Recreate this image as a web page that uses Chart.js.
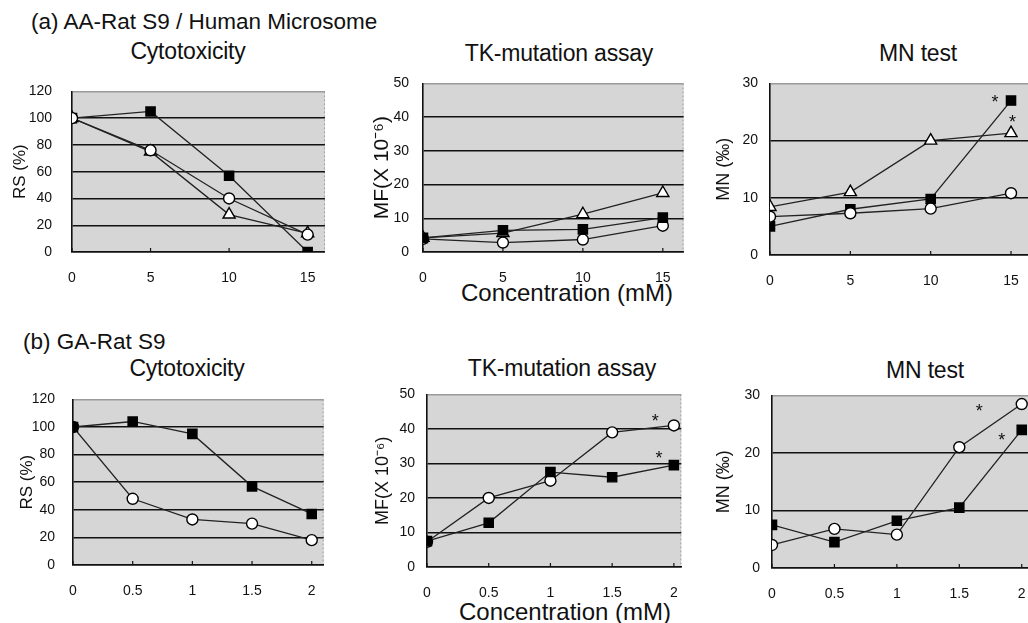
<!DOCTYPE html>
<html><head><meta charset="utf-8">
<script src="https://cdn.jsdelivr.net/npm/chart.js@4"></script>
<style>
body{margin:0;width:1028px;height:623px;overflow:hidden;background:#fff;position:relative;font-family:'Liberation Sans',Arial,sans-serif;color:#111}
.t{position:absolute;white-space:nowrap;transform:translate(-50%,-50%);font-size:23px;letter-spacing:-0.2px}
.h{position:absolute;white-space:nowrap;font-size:22.5px;transform:translateY(-50%)}
.x{position:absolute;white-space:nowrap;transform:translate(-50%,-50%);font-size:24px}
canvas{position:absolute}
</style></head><body>
<div class="h" style="left:31px;top:22px">(a) AA-Rat S9 / Human Microsome</div>
<div class="h" style="left:23px;top:342px">(b) GA-Rat S9</div>
<div class="t" style="left:188px;top:51px">Cytotoxicity</div>
<div class="t" style="left:559px;top:53px">TK-mutation assay</div>
<div class="t" style="left:918px;top:53px">MN test</div>
<div class="t" style="left:187px;top:368px">Cytotoxicity</div>
<div class="t" style="left:562px;top:368px">TK-mutation assay</div>
<div class="t" style="left:925px;top:370px">MN test</div>
<div class="x" style="left:567px;top:293px">Concentration (mM)</div>
<div class="x" style="left:565px;top:612px">Concentration (mM)</div>
<canvas id="c1"></canvas><canvas id="c2"></canvas><canvas id="c3"></canvas>
<canvas id="c4"></canvas><canvas id="c5"></canvas><canvas id="c6"></canvas>
<script>
// ---- data ----
const aaConc = [0, 5, 10, 15];
const gaConc = [0, 0.5, 1, 1.5, 2];
const aaXTicks = [0, 5, 10, 15];
const gaXTicks = [0, 0.5, 1, 1.5, 2];
const gaXLabels = ['0', '0.5', '1', '1.5', '2'];
const cytoYTicks = [0, 20, 40, 60, 80, 100, 120];
const tkYTicks = [0, 10, 20, 30, 40, 50];
const mnYTicks = [0, 10, 20, 30];

const aaCytoSquare = [100, 105, 57, 0];
const aaCytoCircle = [100, 76, 40, 13];
const aaCytoTriangle = [100, 75, 28, 14];
const aaTkSquare = [4.2, 6.4, 6.7, 10.2];
const aaTkCircle = [3.9, 2.8, 3.7, 7.8];
const aaTkTriangle = [4.2, 5.6, 11.2, 17.5];
const aaMnSquare = [5, 8, 9.8, 27];
const aaMnCircle = [6.7, 7.3, 8.1, 10.8];
const aaMnTriangle = [8.4, 11, 20, 21.3];

const gaCytoSquare = [100, 104, 95, 57, 37];
const gaCytoCircle = [100, 48, 33, 30, 18];
const gaTkSquare = [7.5, 12.8, 27.5, 26, 29.5];
const gaTkCircle = [7.3, 20, 25, 39, 41];
const gaMnSquare = [7.5, 4.5, 8.2, 10.5, 24];
const gaMnCircle = [4, 6.8, 5.8, 21, 28.5];

const aaMnStars = [[14, 27.4], [15.1, 24]];
const gaTkStars = [[1.85, 43.5], [1.88, 32.7]];
const gaMnStars = [[1.66, 28], [1.84, 22.9]];

// ---- styles ----
const STY = {
  square: {pointStyle: 'rect', pointRadius: 6.5, pointBackgroundColor: '#000'},
  circle: {pointStyle: 'circle', pointRadius: 5.5, pointBackgroundColor: '#fff'},
  triangle: {pointStyle: 'triangle', pointRadius: 7, pointBackgroundColor: '#fff'}
};
const tickFont = {family: "'Liberation Sans Narrow','Liberation Sans',Arial", size: 14};

function ds(xs, ys, kind) {
  return Object.assign({
    data: xs.map((x, i) => ({x: x, y: ys[i]})),
    borderColor: '#222', borderWidth: 1.3,
    pointBorderColor: '#000', pointBorderWidth: 1.4,
    pointHoverRadius: 6, fill: false, tension: 0
  }, STY[kind]);
}

const decor = {
  id: 'decor',
  beforeDraw(chart) {
    const a = chart.chartArea, c = chart.ctx;
    c.save(); c.fillStyle = '#d6d6d6';
    c.fillRect(a.left, a.top, a.right - a.left, a.bottom - a.top);
    c.strokeStyle = '#a0a0a0'; c.lineWidth = 1; c.setLineDash([2, 2]);
    c.beginPath(); c.moveTo(a.right - 0.5, a.top); c.lineTo(a.right - 0.5, a.bottom); c.stroke();
    c.restore();
  },
  beforeDatasetsDraw(chart) {
    const a = chart.chartArea, c = chart.ctx, xs = chart.scales.x;
    c.save(); c.strokeStyle = '#111'; c.lineWidth = 1.2;
    xs.ticks.forEach(t => {
      const px = xs.getPixelForValue(t.value);
      c.beginPath(); c.moveTo(px, a.bottom); c.lineTo(px, a.bottom - 4); c.stroke();
    });
    c.restore();
  },
  afterDatasetsDraw(chart) {
    const stars = chart.options.plugins.decor.stars || [];
    const c = chart.ctx, xs = chart.scales.x, ys = chart.scales.y;
    c.save(); c.fillStyle = '#111'; c.font = "18px 'Liberation Sans',Arial";
    c.textAlign = 'center'; c.textBaseline = 'alphabetic';
    stars.forEach(s => c.fillText('*', xs.getPixelForValue(s[0]), ys.getPixelForValue(s[1]) + 10));
    c.restore();
  }
};

function panel(id, box, yw, ypad, xMax, xTicks, xLabels, yTicks, yTitle, yTitleSize, datasets, stars, xh) {
  const [L, T, R, B] = box;
  const padTop = 12, padRight = 4;
  const cv = document.getElementById(id);
  cv.width = R - L + yw + padRight; cv.height = B - T + padTop + xh;
  cv.style.left = (L - yw) + 'px'; cv.style.top = (T - padTop) + 'px';
  const yMax = yTicks[yTicks.length - 1];
  new Chart(cv, {
    type: 'line',
    data: {datasets: datasets},
    plugins: [decor],
    options: {
      responsive: false, animation: false, devicePixelRatio: 1,
      layout: {padding: {top: padTop, right: padRight, left: 0, bottom: 0}},
      plugins: {legend: {display: false}, tooltip: {enabled: false}, decor: {stars: stars}},
      scales: {
        x: {
          type: 'linear', min: 0, max: xMax,
          afterBuildTicks: ax => { ax.ticks = xTicks.map(v => ({value: v})); },
          afterFit: ax => { ax.height = xh; },
          ticks: {font: tickFont, color: '#111', padding: 18, maxRotation: 0,
                  callback: (v, i) => xLabels ? xLabels[i] : String(v)},
          grid: {drawOnChartArea: false, drawTicks: false},
          border: {display: true, color: '#111', width: 1.6}
        },
        y: {
          type: 'linear', min: 0, max: yMax,
          afterBuildTicks: ax => { ax.ticks = yTicks.map(v => ({value: v})); },
          afterFit: ax => { ax.width = yw; },
          ticks: {font: tickFont, color: '#111', padding: ypad},
          grid: {drawTicks: false, lineWidth: 1.4,
                 color: ctx => (ctx.tick && ctx.tick.value === yMax) ? '#9a9a9a' : '#111'},
          border: {display: true, color: '#111', width: 1.6},
          title: {display: true, text: yTitle, color: '#111', padding: 0,
                  font: {family: "'Liberation Sans',Arial", size: yTitleSize}}
        }
      }
    }
  });
}

panel('c1', [72, 75, 330, 252], 62, 20, 16.1, aaXTicks, null, cytoYTicks, 'RS (%)', 17,
  [ds(aaConc, aaCytoCircle, 'circle'), ds(aaConc, aaCytoTriangle, 'triangle'), ds(aaConc, aaCytoSquare, 'square')],
  [], 36);
panel('c2', [423, 73, 688, 252], 53, 14, 16.3, aaXTicks, null, tkYTicks, 'MF(X 10\u207B\u2076)', 21,
  [ds(aaConc, aaTkSquare, 'square'), ds(aaConc, aaTkTriangle, 'triangle'), ds(aaConc, aaTkCircle, 'circle')],
  [], 36);
panel('c3', [770, 75, 1040, 255], 57, 12, 16.53, aaXTicks, null, mnYTicks, 'MN (\u2030)', 18,
  [ds(aaConc, aaMnCircle, 'circle'), ds(aaConc, aaMnTriangle, 'triangle'), ds(aaConc, aaMnSquare, 'square')],
  aaMnStars, 36);
panel('c4', [73, 385, 330, 565], 56, 18, 2.1, gaXTicks, gaXLabels, cytoYTicks, 'RS (%)', 17,
  [ds(gaConc, gaCytoSquare, 'square'), ds(gaConc, gaCytoCircle, 'circle')],
  [], 36);
panel('c5', [427, 386, 692, 567], 55, 12, 2.06, gaXTicks, gaXLabels, tkYTicks, 'MF(X 10\u207B\u2076)', 18,
  [ds(gaConc, gaTkSquare, 'square'), ds(gaConc, gaTkCircle, 'circle')],
  gaTkStars, 36);
panel('c6', [772, 387, 1040, 568], 59, 12, 2.1, gaXTicks, gaXLabels, mnYTicks, 'MN (\u2030)', 18,
  [ds(gaConc, gaMnSquare, 'square'), ds(gaConc, gaMnCircle, 'circle')],
  gaMnStars, 36);
</script>
</body></html>
